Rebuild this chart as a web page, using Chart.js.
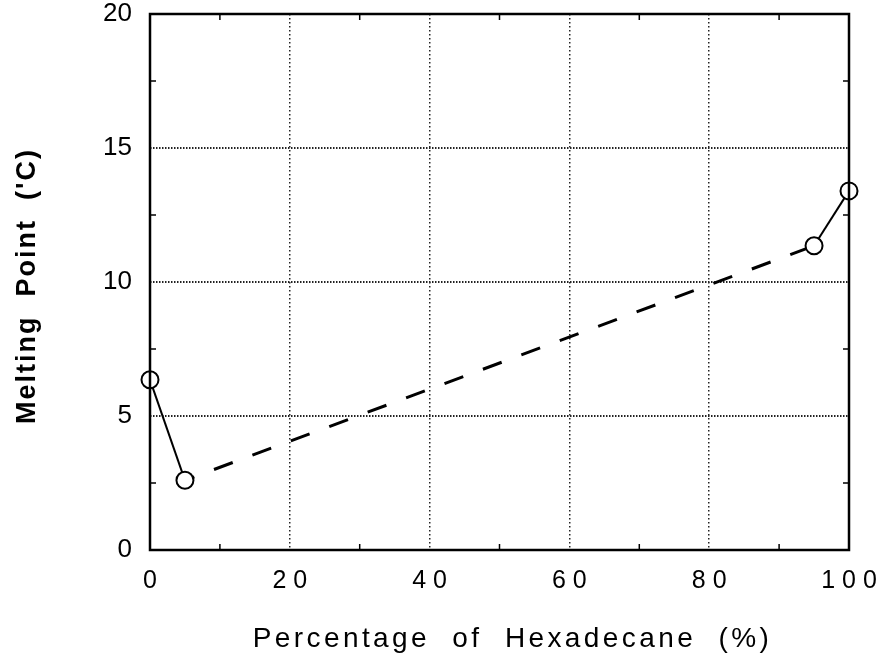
<!DOCTYPE html>
<html>
<head>
<meta charset="utf-8">
<script src="https://cdn.jsdelivr.net/npm/chart.js@4.4.1/dist/chart.umd.min.js"></script>
<style>
  html, body { margin: 0; padding: 0; background: #fff; }
  #wrap { width: 882px; height: 660px; }
</style>
</head>
<body>
<div id="wrap"><canvas id="grafico"></canvas></div>
<script>
// valores
let hexadecano = [0, 5, 95, 100]
let puntoFusion = [6.35, 2.6, 11.35, 13.4]
let ticksX = [0, 20, 40, 60, 80, 100]
let etiquetasX = ['0', '2 0', '4 0', '6 0', '8 0', '1 0 0']
let ticksY = [0, 5, 10, 15, 20]
let menoresX = [10, 30, 50, 70, 90]
let menoresY = [2.5, 7.5, 12.5, 17.5]
let tituloX = 'Percentage  of  Hexadecane  (%)'
let tituloY = "Melting  Point  ('C)"

function punto(i) {
    return { x: hexadecano[i], y: puntoFusion[i] }
}

let fuente = "'Liberation Sans', Arial, Helvetica, sans-serif"

// marco, marcas menores hacia dentro y titulos con espaciado
const marco = {
    id: 'marco',
    afterDraw(chart) {
        const ctx = chart.ctx
        const a = chart.chartArea
        const sx = chart.scales.x, sy = chart.scales.y
        ctx.save()
        ctx.strokeStyle = '#000'
        ctx.lineWidth = 2.5
        ctx.strokeRect(a.left, a.top, a.right - a.left, a.bottom - a.top)
        ctx.lineWidth = 1.5
        ctx.beginPath()
        for (let v of menoresX) {
            let px = sx.getPixelForValue(v)
            ctx.moveTo(px, a.bottom); ctx.lineTo(px, a.bottom - 6)
            ctx.moveTo(px, a.top); ctx.lineTo(px, a.top + 6)
        }
        for (let v of menoresY) {
            let py = sy.getPixelForValue(v)
            ctx.moveTo(a.left, py); ctx.lineTo(a.left + 6, py)
            ctx.moveTo(a.right, py); ctx.lineTo(a.right - 6, py)
        }
        ctx.stroke()

        ctx.fillStyle = '#000'
        ctx.textAlign = 'center'
        ctx.textBaseline = 'alphabetic'
        ctx.letterSpacing = '3.4px'
        ctx.font = '28px ' + fuente
        ctx.fillText(tituloX, (a.left + a.right) / 2 + 13, a.bottom + 97)

        ctx.letterSpacing = '2px'
        ctx.font = 'bold 27px ' + fuente
        ctx.translate(28, (a.top + a.bottom) / 2 + 4)
        ctx.rotate(-Math.PI / 2)
        ctx.textBaseline = 'middle'
        ctx.fillText(tituloY, 0, 0)
        ctx.restore()
    }
}

const config = {
    type: 'scatter',
    data: {
        datasets: [
            {
                data: [punto(0), punto(1)],
                showLine: true,
                borderColor: '#000',
                borderWidth: 2,
                pointRadius: 8.5,
                pointBackgroundColor: '#fff',
                pointBorderColor: '#000',
                pointBorderWidth: 2,
                clip: false
            },
            {
                data: [punto(2), punto(3)],
                showLine: true,
                borderColor: '#000',
                borderWidth: 2,
                pointRadius: 8.5,
                pointBackgroundColor: '#fff',
                pointBorderColor: '#000',
                pointBorderWidth: 2,
                clip: false
            },
            {
                data: [punto(1), punto(2)],
                showLine: true,
                borderColor: '#000',
                borderWidth: 3,
                borderDash: [20, 21],
                borderDashOffset: 10,
                pointRadius: 0,
                clip: false
            }
        ]
    },
    options: {
        responsive: true,
        maintainAspectRatio: false,
        animation: false,
        layout: { padding: { left: 0, right: 33, top: 14, bottom: 0 } },
        plugins: {
            legend: { display: false },
            tooltip: { enabled: false }
        },
        scales: {
            x: {
                type: 'linear',
                min: 0,
                max: 100,
                afterBuildTicks: (s) => { s.ticks = ticksX.map(v => ({ value: v })) },
                afterFit: (s) => {
                    s.height = 110
                    s.paddingLeft = 0
                    s.paddingRight = 0
                },
                ticks: {
                    callback: (v) => etiquetasX[ticksX.indexOf(v)],
                    color: '#000',
                    font: { family: fuente, size: 25, lineHeight: 1 },
                    padding: 19,
                    maxRotation: 0
                },
                grid: {
                    drawTicks: false,
                    color: (c) => (c.tick && (c.tick.value == 0 || c.tick.value == 100)) ? 'rgba(0,0,0,0)' : '#222',
                    lineWidth: 1.5
                },
                border: { display: false, dash: [1.5, 2.5] }
            },
            y: {
                type: 'linear',
                min: 0,
                max: 20,
                afterBuildTicks: (s) => { s.ticks = ticksY.map(v => ({ value: v })) },
                afterFit: (s) => {
                    s.width = 150
                    s.paddingTop = 0
                    s.paddingBottom = 0
                },
                ticks: {
                    color: '#000',
                    font: { family: fuente, size: 26, lineHeight: 1 },
                    padding: 18
                },
                grid: {
                    drawTicks: false,
                    color: (c) => (c.tick && (c.tick.value == 0 || c.tick.value == 20)) ? 'rgba(0,0,0,0)' : '#222',
                    lineWidth: 2
                },
                border: { display: false, dash: [1.5, 1.5] }
            }
        }
    },
    plugins: [marco]
}

const myChart = new Chart(document.getElementById('grafico'), config)
</script>
</body>
</html>
